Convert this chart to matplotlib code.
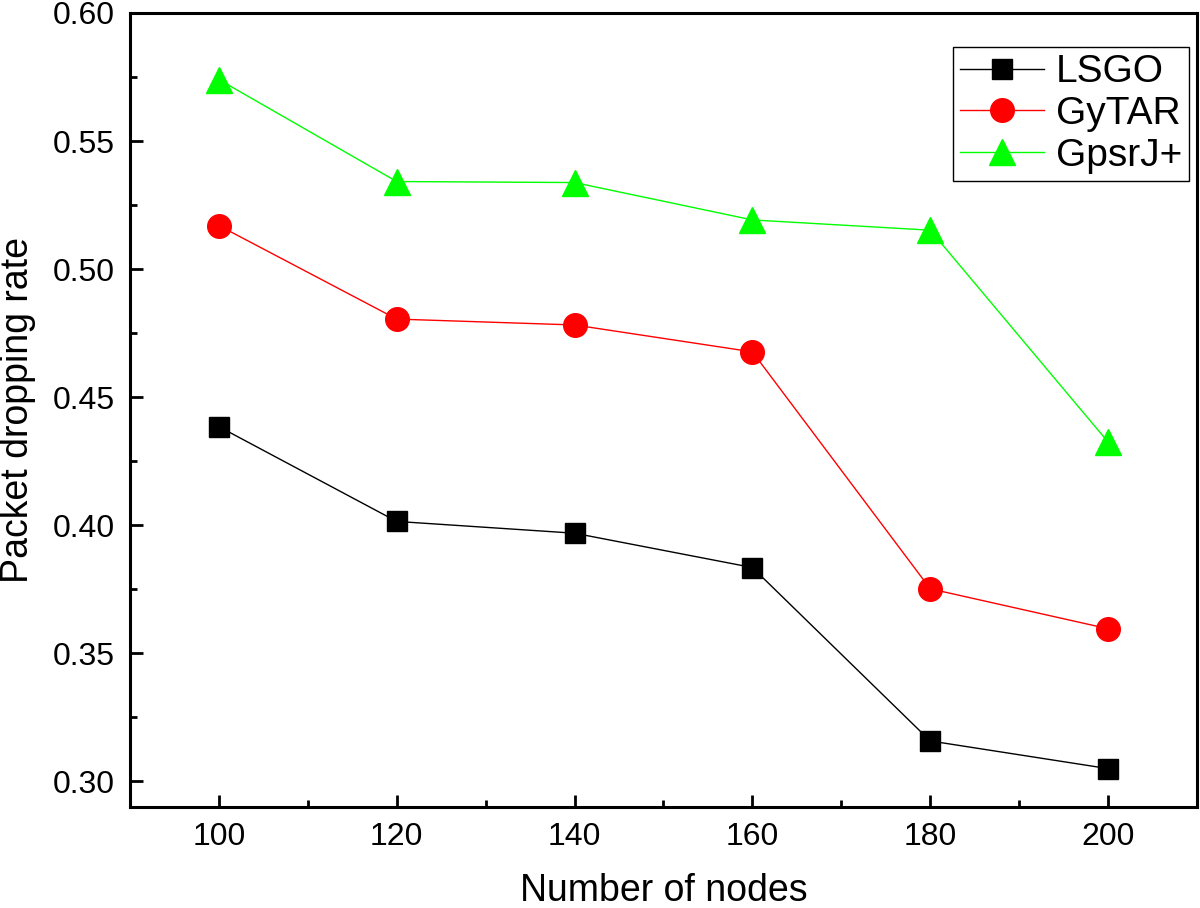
import matplotlib
matplotlib.use("Agg")
import matplotlib.pyplot as plt
from matplotlib.ticker import MultipleLocator

plt.rcParams['font.family'] = ['Liberation Sans', 'DejaVu Sans']

# Data
nodes = [100, 120, 140, 160, 180, 200]
lsgo = [0.4385, 0.4015, 0.3969, 0.3835, 0.3158, 0.3050]
gytar = [0.5170, 0.4805, 0.4782, 0.4677, 0.3752, 0.3596]
gpsrj = [0.5740, 0.5342, 0.5338, 0.5192, 0.5152, 0.4325]

# Plot
fig = plt.figure(figsize=(12, 9.08), dpi=100)
ax = fig.add_axes([0.1083, 0.1112, 0.8892, 0.8745])

ax.plot(nodes, lsgo, color='black', marker='s', markersize=15, linewidth=1, label="LSGO")
ax.plot(nodes, gytar, color='red', marker='o', markersize=17, linewidth=1, label="GyTAR")
ax.plot(nodes, gpsrj, color='#00ff00', marker='^', markersize=19, linewidth=1, label="GpsrJ+")

ax.set_xlim(90, 210)
ax.set_ylim(0.29, 0.60)
ax.xaxis.set_major_locator(MultipleLocator(20))
ax.xaxis.set_minor_locator(MultipleLocator(10))
ax.yaxis.set_major_locator(MultipleLocator(0.05))
ax.yaxis.set_minor_locator(MultipleLocator(0.025))
ax.yaxis.set_major_formatter(matplotlib.ticker.FormatStrFormatter('%.2f'))

ax.tick_params(which='major', direction='in', length=9, width=2, labelsize=23, pad=11)
ax.tick_params(which='minor', direction='in', length=5, width=2)
for s in ax.spines.values():
    s.set_linewidth(2.2)

ax.set_xlabel("Number of nodes", fontsize=27, labelpad=15)
ax.set_ylabel("Packet dropping rate", fontsize=27, labelpad=12)

leg = ax.legend(loc='upper right', bbox_to_anchor=(0.9925, 0.957), borderaxespad=0,
                fontsize=28, fancybox=False, edgecolor='black', framealpha=1,
                handlelength=2.15, handletextpad=0.3, borderpad=0.18, labelspacing=0.15)
leg.get_frame().set_linewidth(1)

fig.savefig("out.png", dpi=100)
